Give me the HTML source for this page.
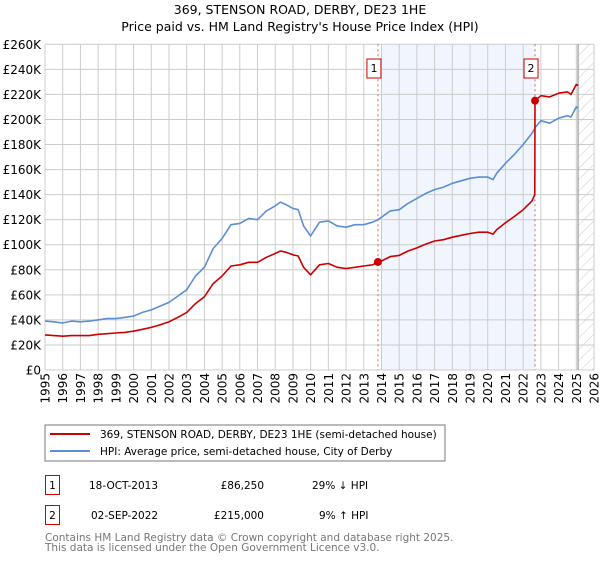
<!DOCTYPE html>
<html><head><meta charset="utf-8"><style>
body{margin:0;background:#fff;width:600px;height:560px;overflow:hidden;font-family:"DejaVu Sans","Liberation Sans",sans-serif}
svg text{font-family:"DejaVu Sans","Liberation Sans",sans-serif}
</style></head><body>
<svg id="chart" width="600" height="560">
<text x="300" y="14" text-anchor="middle" font-size="12.5" fill="#000">369, STENSON ROAD, DERBY, DE23 1HE</text>
<text x="300" y="31" text-anchor="middle" font-size="12.5" fill="#000">Price paid vs. HM Land Registry's House Price Index (HPI)</text>
<g id="grid"></g><g id="series"></g><g id="axes"></g>
<rect x="45" y="425" width="400" height="36" fill="#fff" stroke="#777"/>
<line x1="50" y1="434" x2="90" y2="434" stroke="#cc0000" stroke-width="2"/>
<text x="100" y="438" font-size="10.5">369, STENSON ROAD, DERBY, DE23 1HE (semi-detached house)</text>
<line x1="50" y1="451" x2="90" y2="451" stroke="#5b8fd4" stroke-width="2"/>
<text x="100" y="455" font-size="10.5">HPI: Average price, semi-detached house, City of Derby</text>
<g font-size="10.5">
<rect x="45.5" y="475.5" width="14" height="19" fill="#fff" stroke="#cc0000"/>
<text x="52.5" y="489" text-anchor="middle">1</text>
<text x="89" y="489">18-OCT-2013</text>
<text x="264" y="489" text-anchor="end">£86,250</text>
<text x="312" y="489">29% ↓ HPI</text></g>
<g font-size="10.5">
<rect x="45.5" y="505.5" width="14" height="19" fill="#fff" stroke="#cc0000"/>
<text x="52.5" y="519" text-anchor="middle">2</text>
<text x="91" y="519">02-SEP-2022</text>
<text x="264" y="519" text-anchor="end">£215,000</text>
<text x="319" y="519">9% ↑ HPI</text></g>
<text x="45" y="541" font-size="10.5" fill="#777">Contains HM Land Registry data © Crown copyright and database right 2025.</text>
<text x="45" y="551" font-size="10.5" fill="#777">This data is licensed under the Open Government Licence v3.0.</text>
</svg>
<script>
const yTicks=[0,20,40,60,80,100,120,140,160,180,200,220,240,260];
const xYears=[1995,1996,1997,1998,1999,2000,2001,2002,2003,2004,2005,2006,2007,2008,2009,2010,2011,2012,2013,2014,2015,2016,2017,2018,2019,2020,2021,2022,2023,2024,2025,2026];
const hpiT=[1995,1995.5,1996,1996.5,1997,1997.5,1998,1998.5,1999,1999.5,2000,2000.5,2001,2001.5,2002,2002.5,2003,2003.5,2004,2004.5,2005,2005.5,2006,2006.5,2007,2007.5,2008,2008.3,2008.6,2009,2009.3,2009.6,2010,2010.5,2011,2011.5,2012,2012.5,2013,2013.5,2013.8,2014,2014.5,2015,2015.5,2016,2016.5,2017,2017.5,2018,2018.5,2019,2019.5,2020,2020.3,2020.5,2021,2021.5,2022,2022.5,2022.7,2023,2023.5,2024,2024.5,2024.7,2025,2025.1];
const hpiV=[39,38.5,37.5,39,38.5,39,40,41,41,42,43,46,48,51,54,59,64,75,82,97,105,116,117,121,120,127,131,134,132,129,128,115,107,118,119,115,114,116,116,118,120,122,127,128,133,137,141,144,146,149,151,153,154,154,152,157,165,172,180,189,194,199,197,201,203,202,210,209];
const priceT=[1995,1995.5,1996,1996.5,1997,1997.5,1998,1998.5,1999,1999.5,2000,2000.5,2001,2001.5,2002,2002.5,2003,2003.5,2004,2004.5,2005,2005.5,2006,2006.5,2007,2007.5,2008,2008.3,2008.6,2009,2009.3,2009.6,2010,2010.5,2011,2011.5,2012,2012.5,2013,2013.5,2013.8,2014,2014.5,2015,2015.5,2016,2016.5,2017,2017.5,2018,2018.5,2019,2019.5,2020,2020.3,2020.5,2021,2021.5,2022,2022.5,2022.66,2022.67,2023,2023.5,2024,2024.5,2024.7,2025,2025.1];
const priceV=[28,27.5,27,27.5,27.5,27.5,28.5,29,29.5,30,31,32.5,34,36,38.5,42,46,53,58.5,69,75,83,84,86,86,90,93,95,94,92,91,82,76,84,85,82,81,82,83,84,86.25,87,90.5,91.5,95,97.5,100.5,103,104,106,107.5,109,110,110,108.5,112,117.5,122.5,128,135,140,215,219,218,221,222,220,228,227];
const saleT=[2013.8,2022.67];
const saleV=[86.25,215];
const saleLabels=["1","2"];
const NS="http://www.w3.org/2000/svg";
const X0=45,X1=594,Y0=370,Y1=44.3;
const xs=t=>X0+(t-1995)/(2026-1995)*(X1-X0);
const ys=v=>Y0-v/260*(Y0-Y1);
function mk(tag,attrs,parent){const e=document.createElementNS(NS,tag);for(const k in attrs)e.setAttribute(k,attrs[k]);parent.appendChild(e);return e;}
const grid=document.getElementById('grid'),axes=document.getElementById('axes'),ser=document.getElementById('series');
let r=mk('rect',{x:xs(2014),y:Y1,width:xs(2022.67)-xs(2014),height:Y0-Y1,fill:'#eef3fc',opacity:0.8},grid);


const defs=mk('defs',{},grid);
const pat=mk('pattern',{id:'hatch',width:8,height:8,patternUnits:'userSpaceOnUse',patternTransform:'rotate(45)'},defs);
mk('line',{x1:0,y1:0,x2:0,y2:8,stroke:'#ccc','stroke-width':1},pat);
let h=mk('rect',{x:xs(2025.1),y:Y1,width:X1-xs(2025.1),height:Y0-Y1,fill:'url(#hatch)'},grid);


yTicks.forEach(v=>{
  mk('line',{x1:X0,x2:X1,y1:ys(v),y2:ys(v),stroke:'#ccc'},grid);
  const t=mk('text',{x:X0-4,y:ys(v)+4.5,'text-anchor':'end','font-size':12},axes);
  t.textContent=v===0?'£0':'£'+v+'K';
  
  
});
xYears.forEach(y=>{
  mk('line',{x1:xs(y),x2:xs(y),y1:Y1,y2:Y0,stroke:'#ccc'},grid);
  const t=mk('text',{x:0,y:0,'text-anchor':'end','font-size':12,transform:`translate(${xs(y)+4.5},${Y0+3}) rotate(-90)`},axes);
  t.textContent=y;
  
  
});
let bl=mk('line',{x1:xs(2025.1),x2:xs(2025.1),y1:Y1,y2:Y0,stroke:'#999','stroke-width':1.2},grid);


saleT.forEach((t,i)=>{
  const l=mk('line',{x1:xs(t),x2:xs(t),y1:Y1,y2:Y0,stroke:'#e06060','stroke-dasharray':'2,3'},ser);
  
  
  const g=mk('g',{},ser);
  
  
  mk('rect',{x:xs(t)-11,y:59,width:14,height:19,fill:'#fff',stroke:'#cc0000'},g);
  const tx=mk('text',{x:xs(t)-4,y:72,'text-anchor':'middle','font-size':11},g);
  tx.textContent=saleLabels[i];
});
function path(T,V,col,name){
  const d=T.map((t,i)=>(i?'L':'M')+xs(t).toFixed(1)+','+ys(V[i]).toFixed(1)).join('');
  const p=mk('path',{d:d,fill:'none',stroke:col,'stroke-width':1.6,'stroke-linejoin':'round'},ser);
  
  
}
path(hpiT,hpiV,'#5b8fd4','hpi-line');
path(priceT,priceV,'#cc0000','price-line');
saleT.forEach((t,i)=>{
  const c=mk('circle',{cx:xs(t),cy:ys(saleV[i]),r:4,fill:'#cc0000'},ser);
  
  
});
</script>
</body></html>
